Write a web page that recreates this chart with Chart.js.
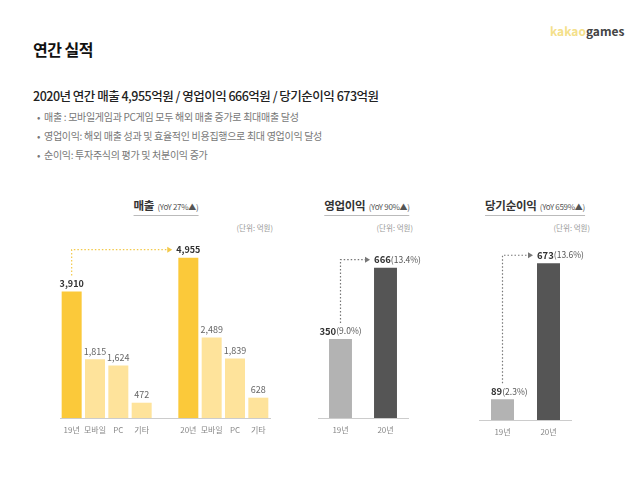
<!DOCTYPE html>
<html>
<head>
<meta charset="utf-8">
<script src="https://cdn.jsdelivr.net/npm/chart.js@4"></script>
<style>
  body { margin: 0; width: 640px; height: 478px; background: #fff; overflow: hidden; position: relative;
         font-family: "Noto Sans CJK KR", "Noto Sans", sans-serif; color: #222; }
  .abs { position: absolute; white-space: nowrap; }
  canvas { position: absolute; }
  .title { transform: translateX(-50%); border-bottom: 1px solid #bbb; line-height: 14px; padding-bottom: 1px; letter-spacing: -0.3px; }
  .title b { font-size: 11.5px; color: #333; }
  .title span { font-size: 8px; color: #555; }
  .unit { font-size: 7.5px; color: #999; transform: translateX(-100%); }
  .bullet { font-size: 10px; color: #777; left: 37px; letter-spacing: -0.3px; }
</style>
</head>
<body>
<div class="abs" style="left:33px;top:37px;font-size:16px;font-weight:bold;color:#111;letter-spacing:-0.5px;">연간 실적</div>
<div class="abs" style="left:550px;top:22px;font-size:12px;font-weight:bold;"><span style="color:#f4e08a">kakao</span><span style="color:#444">games</span></div>
<div class="abs" style="left:33px;top:86px;font-size:12.5px;font-weight:500;color:#222;letter-spacing:-0.5px;">2020년 연간 매출 4,955억원 / 영업이익 666억원 / 당기순이익 673억원</div>
<div class="abs bullet" style="top:109px;">•&nbsp;&nbsp;매출 : 모바일게임과 PC게임 모두 해외 매출 증가로 최대매출 달성</div>
<div class="abs bullet" style="top:128px;">•&nbsp;&nbsp;영업이익: 해외 매출 성과 및 효율적인 비용집행으로 최대 영업이익 달성</div>
<div class="abs bullet" style="top:147px;">•&nbsp;&nbsp;순이익: 투자주식의 평가 및 처분이익 증가</div>

<div class="abs title" style="left:166px;top:196px;"><b>매출</b> <span>(YoY 27%▲)</span></div>
<div class="abs title" style="left:367px;top:196px;"><b>영업이익</b> <span>(YoY 90%▲)</span></div>
<div class="abs title" style="left:535px;top:196px;"><b>당기순이익</b> <span>(YoY 659%▲)</span></div>
<div class="abs unit" style="left:273px;top:222px;">(단위: 억원)</div>
<div class="abs unit" style="left:413px;top:222px;">(단위: 억원)</div>
<div class="abs unit" style="left:590px;top:222px;">(단위: 억원)</div>

<canvas id="c1" style="left:40px;top:230px;" width="245" height="212"></canvas>
<canvas id="c2" style="left:290px;top:230px;" width="150" height="212"></canvas>
<canvas id="c3" style="left:450px;top:230px;" width="190" height="214"></canvas>

<script>
// data
var salesCats = ['19년', '모바일', 'PC', '기타', '', '20년', '모바일', 'PC', '기타'];
var sales19 = [3910, 1815, 1624, 472];
var sales20 = [4955, 2489, 1839, 628];
var years = ['19년', '20년'];
var opProfit = [350, 666];
var opMargin = ['9.0%', '13.4%'];
var netProfit = [89, 673];
var netMargin = ['2.3%', '13.6%'];

var GOLD = '#fbc93a', LIGHT = '#fee39b', GRAY = '#b3b3b3', DARK = '#555555';

var salesData = sales19.concat([null], sales20);
var salesColors = [GOLD, LIGHT, LIGHT, LIGHT, LIGHT, GOLD, LIGHT, LIGHT, LIGHT];

// value labels + dotted arrow
var labelPlugin = {
  id: 'barLabels',
  afterDatasetsDraw: function(chart) {
    var o = chart.options.plugins.barLabels;
    var ctx = chart.ctx;
    var meta = chart.getDatasetMeta(0);
    var ds = chart.data.datasets[0];
    var fam = '"Noto Sans CJK KR", "Noto Sans", sans-serif';
    var lefts = [];
    ctx.save();
    ctx.textBaseline = 'middle';
    meta.data.forEach(function(bar, i) {
      var v = ds.data[i];
      if (v == null) return;
      var y = bar.y - 8;
      var main = v.toLocaleString('en-US');
      var bold = o.bold.indexOf(i) >= 0;
      var suffix = o.suffix ? '(' + o.suffix[i] + ')' : '';
      var mainFont = (bold ? 'bold ' : '') + o.size + 'px ' + fam;
      ctx.font = mainFont;
      var w1 = ctx.measureText(main).width;
      ctx.font = '8.5px ' + fam;
      var w2 = suffix ? ctx.measureText(suffix).width : 0;
      var w = w1 + w2;
      var align = o.align ? o.align[i] : 'center';
      var left = align === 'left' ? bar.x - bar.width / 2 : bar.x - w / 2;
      lefts[i] = { x: left, y: y };
      ctx.textAlign = 'left';
      ctx.fillStyle = bold ? '#333' : '#666';
      ctx.font = mainFont;
      ctx.fillText(main, left, y);
      if (suffix) {
        ctx.fillStyle = '#555';
        ctx.font = '8.5px ' + fam;
        ctx.fillText(suffix, left + w1, y);
      }
    });
    // arrow
    var a = o.arrow;
    var from = meta.data[a.from], to = lefts[a.to];
    var x0 = from.x, yb = lefts[a.from].y - 8, yt = to.y, x1 = to.x - 4;
    ctx.strokeStyle = a.color;
    ctx.lineWidth = 1.2;
    ctx.setLineDash([1.5, 2]);
    ctx.beginPath();
    ctx.moveTo(x0, yb);
    ctx.lineTo(x0, yt);
    ctx.lineTo(x1 - 4, yt);
    ctx.stroke();
    ctx.setLineDash([]);
    ctx.fillStyle = a.color;
    ctx.beginPath();
    ctx.moveTo(x1, yt);
    ctx.lineTo(x1 - 5, yt - 3);
    ctx.lineTo(x1 - 5, yt + 3);
    ctx.closePath();
    ctx.fill();
    ctx.restore();
  }
};

function makeChart(id, labels, data, colors, ymax, pad, barPct, labelOpts) {
  return new Chart(document.getElementById(id), {
    type: 'bar',
    data: {
      labels: labels,
      datasets: [{ data: data, backgroundColor: colors, barPercentage: barPct, categoryPercentage: 1 }]
    },
    options: {
      responsive: false,
      animation: false,
      layout: { padding: pad },
      plugins: { legend: { display: false }, tooltip: { enabled: false }, barLabels: labelOpts },
      scales: {
        x: {
          grid: { display: false, drawTicks: false },
          border: { color: '#cccccc', width: 1 },
          ticks: { color: '#888', font: { size: 8, family: '"Noto Sans CJK KR"' }, padding: 7, maxRotation: 0, autoSkip: false },
          afterFit: function(s) { s.height = 24; }
        },
        y: { display: false, min: 0, max: ymax }
      }
    },
    plugins: [labelPlugin]
  });
}

makeChart('c1', salesCats, salesData, salesColors, 5500,
  { left: 20, right: 15, top: 10, bottom: 0 }, 0.857,
  { size: 9, bold: [0, 5], arrow: { from: 0, to: 5, color: '#f3c94a' } });

makeChart('c2', years, opProfit, [GRAY, DARK], 780,
  { left: 28, right: 32, top: 12, bottom: 0 }, 0.51,
  { size: 9.5, bold: [0, 1], suffix: opMargin, align: ['center', 'left'], arrow: { from: 0, to: 1, color: '#777' } });

makeChart('c3', years, netProfit, [GRAY, DARK], 760,
  { left: 29.5, right: 68.5, top: 13, bottom: 0 }, 0.5,
  { size: 9.5, bold: [0, 1], suffix: netMargin, align: ['left', 'left'], arrow: { from: 0, to: 1, color: '#777' } });
</script>
</body>
</html>
